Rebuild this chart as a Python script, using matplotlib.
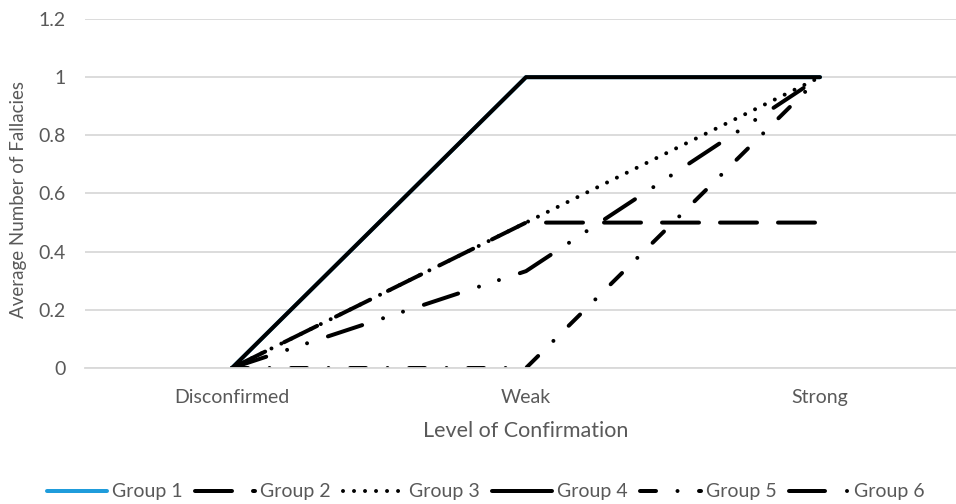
import matplotlib
matplotlib.use("Agg")
import matplotlib.pyplot as plt

categories = ["Disconfirmed", "Weak", "Strong"]
group_names = ["Group 1", "Group 2", "Group 3", "Group 4", "Group 5", "Group 6"]
group1 = [0, 1, 1]
group2 = [0, 0.5, 0.5]
group3 = [0, 0.5, 1]
group4 = [0, 1, 1]
group5 = [0, 0, 1]
group6 = [0, 0.333, 1]
y_ticks = [0, 0.2, 0.4, 0.6, 0.8, 1, 1.2]
y_tick_labels = ["0", "0.2", "0.4", "0.6", "0.8", "1", "1.2"]

plt.rcParams['font.family'] = ['Lato', 'DejaVu Sans']
plt.rcParams['lines.scale_dashes'] = False

PX = 72 / 100.0  # points per pixel

fig = plt.figure(figsize=(9.56, 5.04), dpi=100)
ax = fig.add_axes([85 / 956, 1 - 368 / 504, (967 - 85) / 956, 349 / 504])

x = list(range(len(categories)))
lw = 4.0 * PX

def dash(px_list):
    return (0, [v * PX for v in px_list])

styles = [
    dict(color='#1F9CDB', linestyle='-'),
    dict(color='black', linestyle=dash([37, 21])),
    dict(color='black', linestyle=dash([0.01, 11])),
    dict(color='black', linestyle='-'),
    dict(color='black', linestyle=dash([16, 21.5, 0.01, 21.5])),
    dict(color='black', linestyle=dash([36, 22, 0.01, 21, 0.01, 22])),
]
series = [group1, group2, group3, group4, group5, group6]

for name, vals, st in zip(group_names, series, styles):
    ax.plot(x, vals, label=name, linewidth=lw, solid_capstyle='round',
            dash_capstyle='round', solid_joinstyle='round',
            dash_joinstyle='round', **st)

ax.set_xlim(-0.5, 2.5)
ax.set_ylim(0, 1.2)
ax.set_yticks(y_ticks)
ax.set_yticklabels(y_tick_labels)
ax.set_xticks(x)
ax.set_xticklabels(categories)
ax.yaxis.grid(True, color='#D9D9D9', linewidth=1.3)
ax.set_axisbelow(True)
for s in ['top', 'right', 'left']:
    ax.spines[s].set_visible(False)
ax.spines['bottom'].set_color('#D9D9D9')
ax.spines['bottom'].set_linewidth(1.3)
ax.tick_params(axis='both', length=0, colors='#595959', labelsize=14)
ax.tick_params(axis='y', pad=14)
ax.tick_params(axis='x', pad=15)

ax.set_xlabel("Level of Confirmation", fontsize=15.5, color='#595959', labelpad=11)
ax.set_ylabel("Average Number of Fallacies", fontsize=13.5, color='#595959')
ax.yaxis.set_label_coords(-0.066, 0.484)

leg = fig.legend(loc='center', bbox_to_anchor=(0.508, 1 - 492 / 504), ncol=6,
                 frameon=False, fontsize=14, handlelength=3.1,
                 handletextpad=0.25, columnspacing=0.65,
                 borderaxespad=0, borderpad=0)
for t in leg.get_texts():
    t.set_color('#595959')

fig.savefig("out.png", dpi=100)
